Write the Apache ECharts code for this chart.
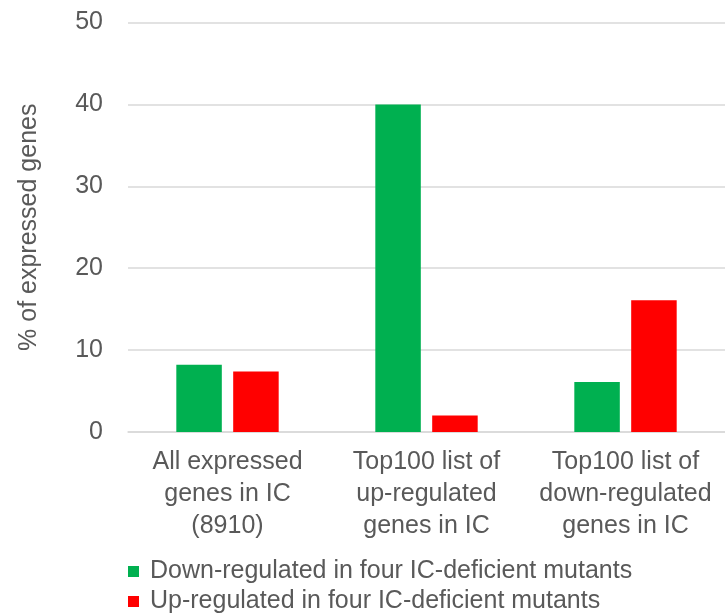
<!DOCTYPE html>
<html>
<head>
<meta charset="utf-8">
<script src="https://cdn.jsdelivr.net/npm/echarts@6/dist/echarts.min.js"></script>
<style>
html,body{margin:0;padding:0;background:#fff;}
#chart{width:725px;height:613px;}
</style>
</head>
<body>
<div id="chart"></div>
<script>
const categories = [
  "All expressed\ngenes in IC\n(8910)",
  "Top100 list of\nup-regulated\ngenes in IC",
  "Top100 list of\ndown-regulated\ngenes in IC"
];
const seriesNames = [
  "Down-regulated in four IC-deficient mutants",
  "Up-regulated in four IC-deficient mutants"
];
const downValues = [8.2, 40, 6.1];
const upValues = [7.4, 2.0, 16.1];
const yTicks = { min: 0, max: 50, interval: 10 };
const yAxisName = "% of expressed genes";

const FONT = '"Liberation Sans", Arial, sans-serif';
const TXT = '#595959';

const chart = echarts.init(document.getElementById('chart'), null, {renderer: 'canvas'});
chart.setOption({
  animation: false,
  backgroundColor: '#ffffff',
  textStyle: { fontFamily: FONT },
  grid: { left: 128, right: 0, top: 22.5, bottom: 181, containLabel: false },
  legend: {
    orient: 'vertical',
    left: 128,
    top: 559,
    width: 600,
    height: 60,
    padding: 0,
    itemWidth: 11,
    itemHeight: 11,
    itemGap: 5,
    icon: 'rect',
    data: seriesNames,
    textStyle: { fontFamily: FONT, fontSize: 25, color: TXT, lineHeight: 24, padding: [0,0,0,6] }
  },
  xAxis: {
    type: 'category',
    data: categories,
    axisLine: { show: true, lineStyle: { color: '#D9D9D9', width: 1.5 } },
    axisTick: { show: false },
    axisLabel: { fontFamily: FONT, fontSize: 25, color: TXT, lineHeight: 32, margin: 14, interval: 0, align: 'center' }
  },
  yAxis: {
    type: 'value',
    min: yTicks.min, max: yTicks.max, interval: yTicks.interval,
    name: yAxisName,
    nameLocation: 'middle',
    nameGap: 86,
    nameRotate: 90,
    nameTextStyle: { fontFamily: FONT, fontSize: 25, color: TXT },
    axisLine: { show: false },
    axisTick: { show: false },
    axisLabel: { fontFamily: FONT, fontSize: 25, color: TXT, margin: 25 },
    splitLine: { show: true, lineStyle: { color: '#D9D9D9', width: 1.5 } }
  },
  series: [
    { name: seriesNames[0], type: 'bar', data: downValues, barWidth: 45.5, barGap: '25%',
      itemStyle: { color: '#00B050' } },
    { name: seriesNames[1], type: 'bar', data: upValues, barWidth: 45.5, barGap: '25%',
      itemStyle: { color: '#FF0000' } }
  ]
});
</script>
</body>
</html>
